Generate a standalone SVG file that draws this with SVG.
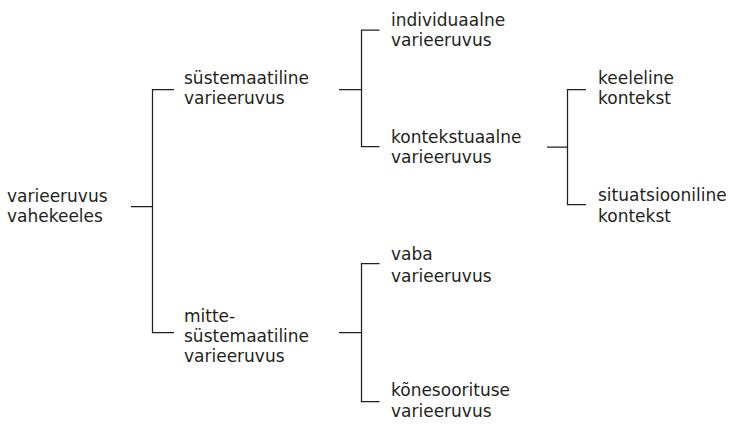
<svg xmlns="http://www.w3.org/2000/svg" width="734" height="424" viewBox="0 0 734 424">
<style>
text { font-family: "DejaVu Sans", sans-serif; font-size: 17px; fill: #231f20; }
.c { fill: none; stroke: #231f20; stroke-width: 1.25; }
</style>
<rect width="734" height="424" fill="#ffffff"/>
<g id="connectors">
<path class="c" d="M131,206.5 H152.5 M174,89.5 H152.5 V332.5 H174"/>
<path class="c" d="M339,89.5 H361.5 M379.5,30 H361.5 V146.5 H379.5"/>
<path class="c" d="M339,332.5 H361.5 M379.5,263.5 H361.5 V401.5 H379.5"/>
<path class="c" d="M547,147 H567.5 M586,89.5 H567.5 V204.5 H586"/>
</g>
<g id="n-root"><text x="7" y="201.5">varieeruvus<tspan x="7" dy="20">vahekeeles</tspan></text></g>
<g id="n-systemaatiline"><text x="184" y="83.5">süstemaatiline<tspan x="184" dy="20.5">varieeruvus</tspan></text></g>
<g id="n-mitte"><text x="184" y="321.5">mitte-<tspan x="184" dy="20">süstemaatiline</tspan><tspan x="184" dy="20">varieeruvus</tspan></text></g>
<g id="n-individuaalne"><text x="391" y="26">individuaalne<tspan x="391" dy="20">varieeruvus</tspan></text></g>
<g id="n-kontekstuaalne"><text x="391" y="142.5">kontekstuaalne<tspan x="391" dy="20.5">varieeruvus</tspan></text></g>
<g id="n-keeleline"><text x="598" y="83.5">keeleline<tspan x="598" dy="20.5">kontekst</tspan></text></g>
<g id="n-situatsiooniline"><text x="598" y="201">situatsiooniline<tspan x="598" dy="20.5">kontekst</tspan></text></g>
<g id="n-vaba"><text x="391" y="259.5">vaba<tspan x="391" dy="22.5">varieeruvus</tspan></text></g>
<g id="n-konesoorituse"><text x="391" y="395.5">kõnesoorituse<tspan x="391" dy="21">varieeruvus</tspan></text></g>
</svg>
